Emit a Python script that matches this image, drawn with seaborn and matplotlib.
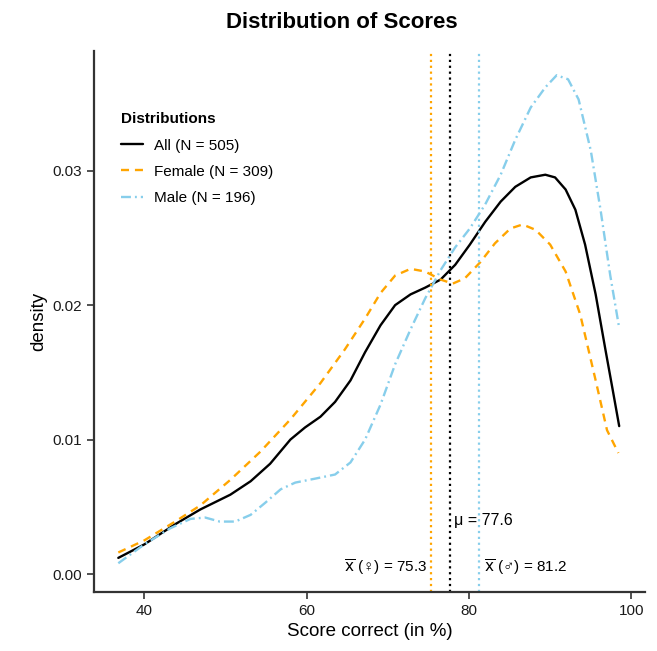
import matplotlib
matplotlib.use("Agg")
import matplotlib.pyplot as plt
import pandas as pd
import seaborn as sns

# density curves (score %, density)
all_x = [36.8, 40.0, 43.8, 46.9, 50.6, 53.1, 55.5, 58.0, 59.8, 61.7, 63.5, 65.4,
         67.2, 69.1, 70.9, 72.8, 74.6, 76.5, 78.3, 80.1, 82.0, 83.9, 85.7, 87.6,
         89.4, 90.6, 91.9, 93.1, 94.3, 95.6, 96.8, 97.7, 98.5]
all_y = [0.0012, 0.0022, 0.0037, 0.0048, 0.0059, 0.0069, 0.0082, 0.0100, 0.0109,
         0.0117, 0.0128, 0.0144, 0.0165, 0.0185, 0.0200, 0.0208, 0.0213, 0.0219,
         0.0230, 0.0245, 0.0262, 0.0277, 0.0288, 0.0295, 0.0297, 0.0295, 0.0286,
         0.0271, 0.0245, 0.0208, 0.0167, 0.0137, 0.0110]

female_x = [36.8, 40.0, 43.8, 46.9, 50.6, 54.3, 58.0, 61.7, 64.7, 67.2, 69.1, 70.9,
            72.8, 74.6, 76.5, 78.0, 79.5, 81.4, 83.2, 85.1, 86.6, 88.2, 90.0, 91.9,
            93.7, 95.6, 97.0, 98.4]
female_y = [0.0016, 0.0025, 0.0039, 0.0051, 0.0070, 0.0091, 0.0115, 0.0142, 0.0167,
            0.0190, 0.0209, 0.0222, 0.0227, 0.0225, 0.0219, 0.0216, 0.0220, 0.0232,
            0.0246, 0.0257, 0.0260, 0.0256, 0.0245, 0.0225, 0.0193, 0.0144, 0.0107,
            0.0090]

male_x = [36.8, 40.0, 43.2, 45.7, 47.5, 49.3, 51.2, 53.1, 54.9, 56.8, 58.6, 61.1,
          63.5, 65.4, 67.2, 69.1, 70.9, 72.8, 74.6, 76.5, 78.3, 80.1, 82.0, 83.9,
          85.7, 87.6, 89.4, 90.8, 92.2, 93.5, 95.0, 96.2, 97.4, 98.5]
male_y = [0.0008, 0.0022, 0.0034, 0.0041, 0.0042, 0.0039, 0.0039, 0.0044, 0.0053,
          0.0063, 0.0068, 0.0071, 0.0074, 0.0083, 0.0100, 0.0126, 0.0156, 0.0182,
          0.0205, 0.0226, 0.0243, 0.0257, 0.0275, 0.0297, 0.0323, 0.0347, 0.0362,
          0.0371, 0.0368, 0.0353, 0.0315, 0.0271, 0.0222, 0.0183]

labels = ["All (N = 505)", "Female (N = 309)", "Male (N = 196)"]
mean_all, mean_female, mean_male = 77.6, 75.3, 81.2

df = pd.concat([
    pd.DataFrame({"score": all_x, "density": all_y, "group": labels[0]}),
    pd.DataFrame({"score": female_x, "density": female_y, "group": labels[1]}),
    pd.DataFrame({"score": male_x, "density": male_y, "group": labels[2]}),
])

sns.set_style("ticks")
fam = ["Liberation Sans", "DejaVu Sans"]
plt.rcParams["font.family"] = fam
plt.rcParams["text.color"] = "black"
plt.rcParams["axes.labelcolor"] = "black"

colors = {labels[0]: "black", labels[1]: "orange", labels[2]: "skyblue"}
dashes = {labels[0]: "", labels[1]: (3.4, 2.5), labels[2]: (4.2, 1.7, 0.8, 1.7)}

fig = plt.figure(figsize=(6.57, 6.51), dpi=100)
ax = fig.add_axes([0.143, 0.0906, 0.839, 0.831])

sns.lineplot(data=df, x="score", y="density", hue="group", style="group",
             palette=colors, dashes=dashes, linewidth=1.7, ax=ax, sort=False)

# mean lines
ax.axvline(mean_female, color="orange", ls=":", lw=1.6)
ax.axvline(mean_all, color="black", ls=":", lw=1.6)
ax.axvline(mean_male, color="skyblue", ls=":", lw=1.6)

ax.text(mean_all + 0.6, 0.0040, "μ = 77.6", fontsize=11.5, va="center", family=fam)
ax.text(mean_female - 0.5, 0.0005, r"$\overline{\mathrm{x}}$ (♀) = 75.3", fontsize=11,
        ha="right", va="center", family=fam)
ax.text(mean_male + 0.6, 0.0005, r"$\overline{\mathrm{x}}$ (♂) = 81.2", fontsize=11,
        ha="left", va="center", family=fam)

ax.set_xlim(33.8, 101.7)
ax.set_ylim(-0.00134, 0.0389)
ax.set_xticks([40, 60, 80, 100])
ax.set_yticks([0.0, 0.01, 0.02, 0.03])
ax.set_yticklabels(["0.00", "0.01", "0.02", "0.03"])
ax.set_xlabel("Score correct (in %)", fontsize=13.5)
ax.set_ylabel("density", fontsize=13.5)
fig.text(0.521, 0.966, "Distribution of Scores", fontsize=16, fontweight="bold",
         ha="center", va="center")

for s in ["left", "bottom"]:
    ax.spines[s].set_color("#333333")
    ax.spines[s].set_linewidth(1.6)
sns.despine(ax=ax)
ax.tick_params(colors="#333333", width=1.2, length=5, labelsize=11, labelcolor="#1a1a1a")

leg = ax.legend(title="Distributions", loc="upper left", bbox_to_anchor=(0.025, 0.912),
                frameon=False, fontsize=11, handlelength=1.4, handletextpad=0.7,
                labelspacing=0.8)
leg.get_title().set_fontweight("bold")
leg.get_title().set_fontsize(11)
leg._legend_box.align = "left"

fig.savefig("out.png", dpi=100)
